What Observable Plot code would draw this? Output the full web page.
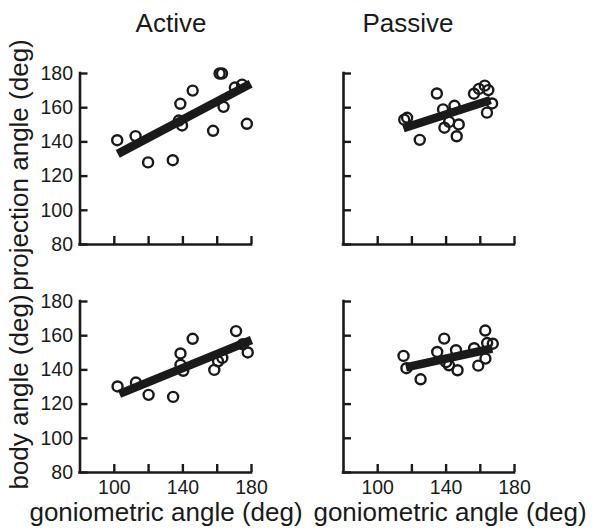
<!DOCTYPE html>
<html><head><meta charset="utf-8">
<script src="https://cdn.jsdelivr.net/npm/d3@7"></script>
<script src="https://cdn.jsdelivr.net/npm/@observablehq/plot@0.6"></script>
<style>
body{margin:0;background:#fff}
#chart{position:relative;width:596px;height:529px;font-family:"Liberation Sans",Arial,sans-serif;color:#1a1a1a;overflow:hidden}
#chart svg{position:absolute;left:0;top:0}
.lbl{position:absolute;white-space:nowrap;line-height:1;font-size:26px;color:#1a1a1a}
</style></head><body><div id="chart"></div><script>
// ---- data ----
const columnTitles = ["Active", "Passive"];
const rowLabels = ["projection angle (deg)", "body angle (deg)"];
const xAxisLabel = "goniometric angle (deg)";
const axisDomain = [80, 180];
const xTicks = [100, 120, 140, 160, 180];
const xTickLabels = [100, 140, 180];
const yTicks = [80, 100, 120, 140, 160, 180];

const activeProjX = [101.7, 112.4, 119.7, 134.1, 138.5, 137.6, 139.5, 145.7, 157.6, 161.4, 162.8, 163.7, 170.3, 174.5, 177.3];
const activeProjY = [141.0, 143.4, 128.0, 129.3, 162.3, 152.5, 149.6, 170.0, 146.5, 180.0, 180.0, 160.5, 171.8, 173.5, 150.6];
const activeProjFitX = [102, 179.5];
const activeProjFitY = [133, 174];

const passiveProjX = [115.5, 117.2, 124.6, 134.6, 138.2, 139.0, 141.8, 144.9, 147.4, 146.2, 156.3, 159.2, 162.6, 164.7, 166.9, 163.9];
const passiveProjY = [153.0, 154.1, 141.2, 168.3, 159.0, 148.3, 151.7, 161.1, 150.2, 143.3, 168.2, 171.0, 172.9, 170.3, 162.5, 157.1];
const passiveProjFitX = [115, 166];
const passiveProjFitY = [148, 164.5];

const activeBodyX = [101.9, 112.6, 120.0, 134.3, 138.6, 138.6, 140.2, 145.7, 158.3, 163.0, 160.5, 171.0, 175.0, 177.8];
const activeBodyY = [130.3, 132.6, 125.4, 124.2, 149.6, 143.0, 139.5, 158.2, 140.0, 147.0, 145.0, 162.7, 155.0, 150.2];
const activeBodyFitX = [103, 180];
const activeBodyFitY = [126, 157.5];

const passiveBodyX = [115.1, 116.8, 125.1, 134.8, 138.9, 140.0, 141.7, 145.8, 146.7, 156.4, 158.8, 162.9, 164.0, 167.3, 163.0];
const passiveBodyY = [148.2, 141.0, 134.5, 150.5, 158.3, 144.5, 142.7, 151.5, 139.8, 152.7, 142.5, 163.0, 155.7, 155.3, 146.6];
const passiveBodyFitX = [116.5, 167];
const passiveBodyFitY = [141.5, 152.5];

// ---- layout ----
const W = 596, H = 529;
const ink = "#1a1a1a";
const chart = document.getElementById("chart");

function panel(xs, ys, fxs, fys, frame, showXLabels, showYLabels) {
  const pts = xs.map((x, i) => ({x, y: ys[i]}));
  const fit = fxs.map((x, i) => ({x, y: fys[i]}));
  const fw = frame.right - frame.left, fh = frame.bottom - frame.top;
  const marks = [
    Plot.ruleX([axisDomain[0]], {y1: axisDomain[0], y2: axisDomain[1], stroke: ink, strokeWidth: 2.6, strokeLinecap: "square"}),
    Plot.ruleY([axisDomain[0]], {x1: axisDomain[0], x2: axisDomain[1], stroke: ink, strokeWidth: 2.6, strokeLinecap: "square"}),
    Plot.tickX(xTicks, {x: d => d, stroke: ink, strokeWidth: 2.4, insetTop: fh - 8}),
    Plot.tickY(yTicks, {y: d => d, stroke: ink, strokeWidth: 2.4, insetRight: fw - 8}),
    Plot.dot(pts, {x: "x", y: "y", r: 5, stroke: ink, strokeWidth: 2.4, fill: "none"}),
    Plot.line(fit, {x: "x", y: "y", stroke: ink, strokeWidth: 8.5, strokeLinecap: "butt"})
  ];
  if (showXLabels) marks.push(Plot.axisX(xTickLabels, {tickSize: 0, tickPadding: 8, label: null, fontSize: 19.5}));
  if (showYLabels) marks.push(Plot.axisY(yTicks, {tickSize: 0, tickPadding: 7, label: null, fontSize: 19.5}));
  const svg = Plot.plot({
    width: W, height: H,
    marginLeft: frame.left, marginRight: W - frame.right,
    marginTop: frame.top, marginBottom: H - frame.bottom,
    x: {domain: axisDomain, axis: null},
    y: {domain: axisDomain, axis: null},
    style: {background: "transparent", color: ink, fontFamily: "'Liberation Sans', Arial, sans-serif", fontSize: "19.5px", overflow: "visible"},
    marks
  });
  chart.appendChild(svg);
}

panel(activeProjX, activeProjY, activeProjFitX, activeProjFitY, {left: 79.5, right: 251, top: 73, bottom: 244}, false, true);
panel(passiveProjX, passiveProjY, passiveProjFitX, passiveProjFitY, {left: 343, right: 514, top: 73, bottom: 244}, false, false);
panel(activeBodyX, activeBodyY, activeBodyFitX, activeBodyFitY, {left: 79.5, right: 251, top: 301, bottom: 472}, true, true);
panel(passiveBodyX, passiveBodyY, passiveBodyFitX, passiveBodyFitY, {left: 343, right: 514, top: 301, bottom: 472}, true, false);

function label(text, cx, top, rotate) {
  const d = document.createElement("div");
  d.className = "lbl";
  d.textContent = text;
  d.style.left = cx + "px";
  d.style.top = top + "px";
  d.style.transform = rotate ? "translate(-50%,-50%) rotate(-90deg)" : "translateX(-50%)";
  chart.appendChild(d);
}
label(columnTitles[0], 171, 10, false);
label(columnTitles[1], 408, 10, false);
label(xAxisLabel, 166, 499, false);
label(xAxisLabel, 450, 499, false);
label(rowLabels[0], 19, 165, true);
label(rowLabels[1], 19, 392, true);
</script></body></html>
